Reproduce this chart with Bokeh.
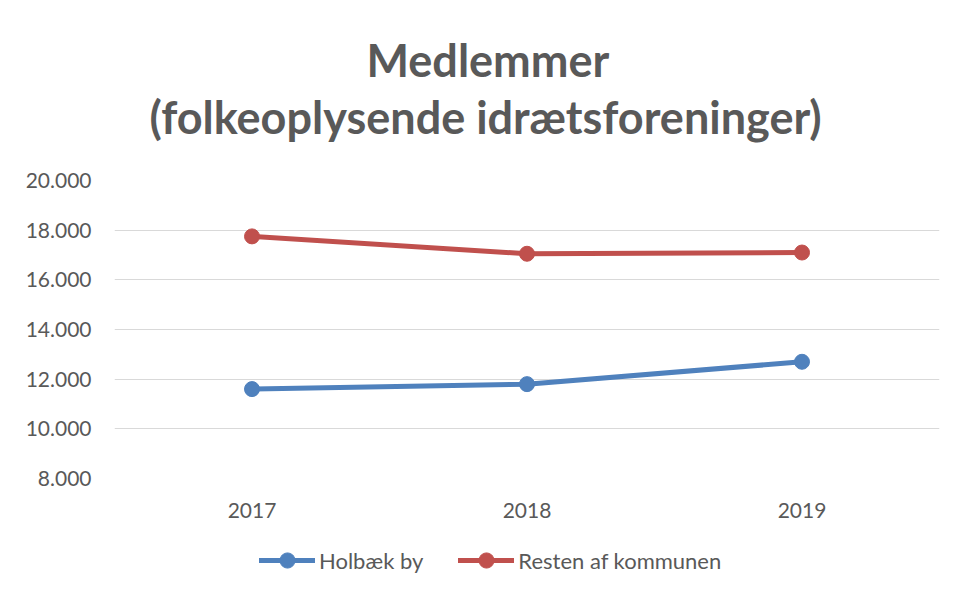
from bokeh.plotting import figure
from bokeh.models import Title, FixedTicker, Range1d, Legend, LegendItem
from bokeh.layouts import column
from bokeh.embed import file_html
from bokeh.resources import INLINE

years = ["2017", "2018", "2019"]
holbaek_by = [11600, 11800, 12700]
resten = [17750, 17050, 17100]
y_ticks = [8000, 10000, 12000, 14000, 16000, 18000, 20000]
y_tick_labels = ["8.000", "10.000", "12.000", "14.000", "16.000", "18.000", "20.000"]
series_names = ["Holbæk by", "Resten af kommunen"]

FONT = "Lato"
TXT = "#595959"
BLUE = "#4f81bd"
RED = "#c0504d"
W = 949

p = figure(x_range=years, y_range=Range1d(8000, 20000), frame_width=825, frame_height=298,
           output_backend="svg", toolbar_location=None,
           title="Medlemmer",
           min_border_left=114, min_border_right=10, min_border_top=180, min_border_bottom=58)

p.title.text_font = FONT
p.title.text_font_size = "45px"
p.title.text_font_style = "bold"
p.title.text_color = TXT
p.title.align = "left"
p.title.offset = 252
p.title.standoff = -73

t2 = Title(text="(folkeoplysende idrætsforeninger)", text_font=FONT, text_font_size="45px",
           text_font_style="bold", text_color=TXT, align="left", offset=35, standoff=74)
p.add_layout(t2, "above")

p.line(years, holbaek_by, line_color=BLUE, line_width=5, line_cap="round")
p.scatter(years, holbaek_by, size=15, fill_color=BLUE, line_color=BLUE)
p.line(years, resten, line_color=RED, line_width=5, line_cap="round")
p.scatter(years, resten, size=15, fill_color=RED, line_color=RED)

p.outline_line_color = None
p.xgrid.grid_line_color = None
p.ygrid.grid_line_color = "#d9d9d9"
p.ygrid.grid_line_width = 1

p.yaxis.ticker = FixedTicker(ticks=y_ticks)
p.yaxis.major_label_overrides = {t: l for t, l in zip(y_ticks, y_tick_labels)}
for ax in (p.xaxis[0], p.yaxis[0]):
    ax.axis_line_color = None
    ax.major_tick_line_color = None
    ax.minor_tick_line_color = None
    ax.major_tick_out = 0
    ax.major_tick_in = 0
    ax.major_label_text_font = FONT
    ax.major_label_text_font_size = "21px"
    ax.major_label_text_color = TXT
p.yaxis.major_label_standoff = 23
p.xaxis.major_label_standoff = 24

# legend strip: same series drawn out of view, only the legend shows
q = figure(x_range=years, y_range=Range1d(0, 1), width=W, height=58,
           output_backend="svg", toolbar_location=None,
           min_border_left=0, min_border_right=0, min_border_top=0, min_border_bottom=0)
q.axis.visible = False
q.grid.grid_line_color = None
q.outline_line_color = None
ql1 = q.line(years, holbaek_by, line_color=BLUE, line_width=5, line_cap="round")
qs1 = q.scatter(years, holbaek_by, size=15, fill_color=BLUE, line_color=BLUE)
ql2 = q.line(years, resten, line_color=RED, line_width=5, line_cap="round")
qs2 = q.scatter(years, resten, size=15, fill_color=RED, line_color=RED)

leg = Legend(items=[LegendItem(label=series_names[0], renderers=[ql1, qs1]),
                    LegendItem(label=series_names[1], renderers=[ql2, qs2])],
             orientation="horizontal", location=(145, 15))
leg.border_line_color = None
leg.background_fill_alpha = 0
leg.label_text_font = FONT
leg.label_text_font_size = "22px"
leg.label_text_color = TXT
leg.glyph_width = 56
leg.glyph_height = 38
leg.label_standoff = 4
leg.spacing = 35
leg.margin = 0
leg.padding = 0
q.add_layout(leg, "center")

layout = column(p, q, spacing=0)
open("out.html", "w").write(file_html(layout, INLINE))
